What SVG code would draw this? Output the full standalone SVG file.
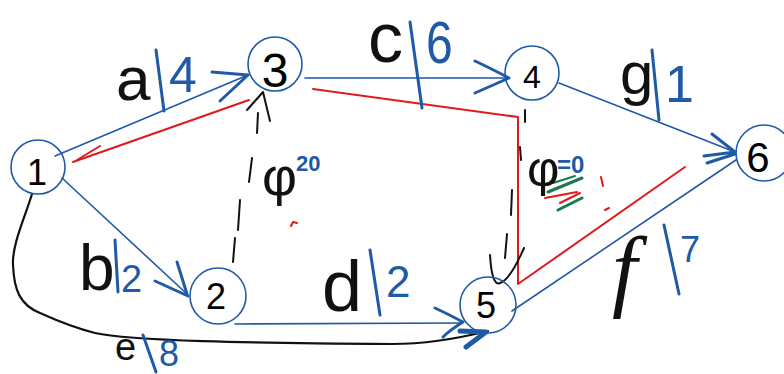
<svg xmlns="http://www.w3.org/2000/svg" width="784" height="374" viewBox="0 0 784 374">
<style>
.node{fill:none;stroke:#1f5aa6;stroke-width:1.6}
.num{font-family:"Liberation Sans",Arial,sans-serif;fill:#000;text-anchor:middle}
.blk{font-family:"Liberation Sans",Arial,sans-serif;fill:#111}
.bl{font-family:"Liberation Sans",Arial,sans-serif;fill:#1f5aa6}
.e{fill:none;stroke:#1f5aa6;stroke-width:1.6;stroke-linecap:round}
.ah{fill:none;stroke:#1f5aa6;stroke-width:3;stroke-linecap:round;stroke-linejoin:round}
.bar{fill:none;stroke:#1f5aa6;stroke-width:3;stroke-linecap:round}
.red{fill:none;stroke:#e01a1a;stroke-width:2;stroke-linecap:round;stroke-linejoin:round}
.blkl{fill:none;stroke:#111;stroke-width:2.5;stroke-linecap:round;stroke-linejoin:round}
.grn{fill:none;stroke:#1a7a4c;stroke-width:3;stroke-linecap:round}
</style>
<rect width="784" height="374" fill="#fff"/>
<g id="connectors">
  <!-- a: 1 -> 3 -->
  <path class="e" d="M55,156 L248,75"/>
  <path class="ah" d="M212,72 L248,75 L220,101"/>
  <!-- c: 3 -> 4 -->
  <path class="e" d="M305,78 L508,78"/>
  <path class="ah" d="M475,61 Q490,68 509,78 L475,93"/>
  <!-- g: 4 -> 6 -->
  <path class="e" d="M559,83 L735,152"/>
  <path class="ah" d="M712,134 L735,152 L704,156 M707,163 L735,154"/>
  <!-- b: 1 -> 2 -->
  <path class="e" d="M62,178 L187,294"/>
  <path class="ah" d="M155,281 L188,296 M177,262 L187,294"/>
  <!-- d: 2 -> 5 -->
  <path class="e" d="M235,324 L462,323"/>
  <path class="ah" d="M435,308 Q448,314 463,322 Q450,330 443,337"/>
  <!-- f: 5 -> 6 -->
  <path class="e" d="M512,311 L736,160"/>
  <!-- e: 1 -> 5 curve -->
  <path class="blkl" style="stroke-width:2.2" d="M32,194 C24,220 12,245 13,265 C14,290 20,305 40,313 C60,322 75,328 95,333 C130,341 250,343 392,344 C430,344 460,338 488,331"/>
  <path class="ah" style="stroke-width:5" d="M460,331 L486,332 L466,347"/>
  <!-- red path -->
  <path class="red" d="M73,162 L249,100"/>
  <path class="red" d="M100,146 L77,160"/>
  <path class="red" d="M313,89 L518,117 L518,284 L685,167"/>
  <path class="red" d="M601,177 L603,186 M605,210 L609,208 M291,226 L293,222 L297,223"/>
  <!-- dummy 2 -> 3 (dashed hand) -->
  <path class="blkl" style="stroke-width:2" d="M247,110 L263,92 L270,121 M258,113 L257,133 M252,158 L249,182 M240,200 L238,230 M235,238 L233,262"/>
  <!-- dummy 5 -> 4 (dashed hand) -->
  <path class="blkl" style="stroke-width:2" d="M525,110 L525,122 M520,147 L521,160 M512,190 L511,215 M507,234 L505,258 M490,255 Q492,287 500,283 Q510,280 524,248"/>
  <!-- scribbles -->
  <path class="grn" d="M548,192 L582,178 M558,210 L582,198"/>
  <path class="red" d="M545,198 L577,192 M560,203 L580,193"/>
  <path class="grn" style="stroke-width:2" d="M553,183 L575,176"/>
</g>
<g id="node1"><circle class="node" cx="38" cy="167" r="27"/><text class="num" x="37" y="185" font-size="36">1</text></g>
<g id="node2"><circle class="node" cx="218" cy="296" r="28"/><text class="num" x="216" y="309" font-size="36">2</text></g>
<g id="node3"><circle class="node" cx="275" cy="64" r="27"/><text class="num" x="275" y="87" font-size="48">3</text></g>
<g id="node4"><circle class="node" cx="532" cy="73" r="27"/><text class="num" x="532" y="88" font-size="32">4</text></g>
<g id="node5"><circle class="node" cx="488" cy="305" r="28"/><text class="num" x="486" y="318" font-size="36">5</text></g>
<g id="node6"><circle class="node" cx="764" cy="153" r="28"/><text class="num" x="758" y="172" font-size="42">6</text></g>
<g id="labels">
  <text class="blk" x="116" y="100" font-size="62">a</text>
  <path class="bar" d="M156,50 L164,111"/>
  <text class="bl" x="169" y="92" font-size="50">4</text>

  <text class="blk" x="368" y="62" font-size="70">c</text>
  <path class="bar" d="M410,22 L422,108"/>
  <text class="bl" x="426" y="63" font-size="60" transform="translate(426,0) scale(0.8,1) translate(-426,0)">6</text>

  <text class="blk" x="620" y="94" font-size="60">g</text>
  <path class="bar" d="M652,50 L659,120"/>
  <text class="bl" x="665" y="102" font-size="52">1</text>

  <text class="blk" x="79" y="290" font-size="64">b</text>
  <path class="bar" d="M115,240 L118,292"/>
  <text class="bl" x="121" y="292" font-size="38">2</text>

  <text class="blk" x="322" y="311" font-size="72">d</text>
  <path class="bar" d="M370,250 L380,315"/>
  <text class="bl" x="386" y="297" font-size="44">2</text>

  <text class="blk" x="115" y="360" font-size="38">e</text>
  <path class="bar" d="M143,335 L156,372"/>
  <text class="bl" x="159" y="366" font-size="36">8</text>

  <text class="blk" x="612" y="300" font-size="90" font-style="italic" style="font-family:'Liberation Serif',serif">f</text>
  <path class="bar" d="M664,225 L679,294"/>
  <text class="bl" x="680" y="262" font-size="36">7</text>

  <text class="blk" x="262" y="195" font-size="54">φ</text>
  <text class="bl" x="296" y="171" font-size="22" font-weight="bold">20</text>

  <text class="blk" x="527" y="186" font-size="50">φ</text>
  <text class="bl" x="557" y="173" font-size="24" font-weight="bold">=0</text>
</g>
</svg>
